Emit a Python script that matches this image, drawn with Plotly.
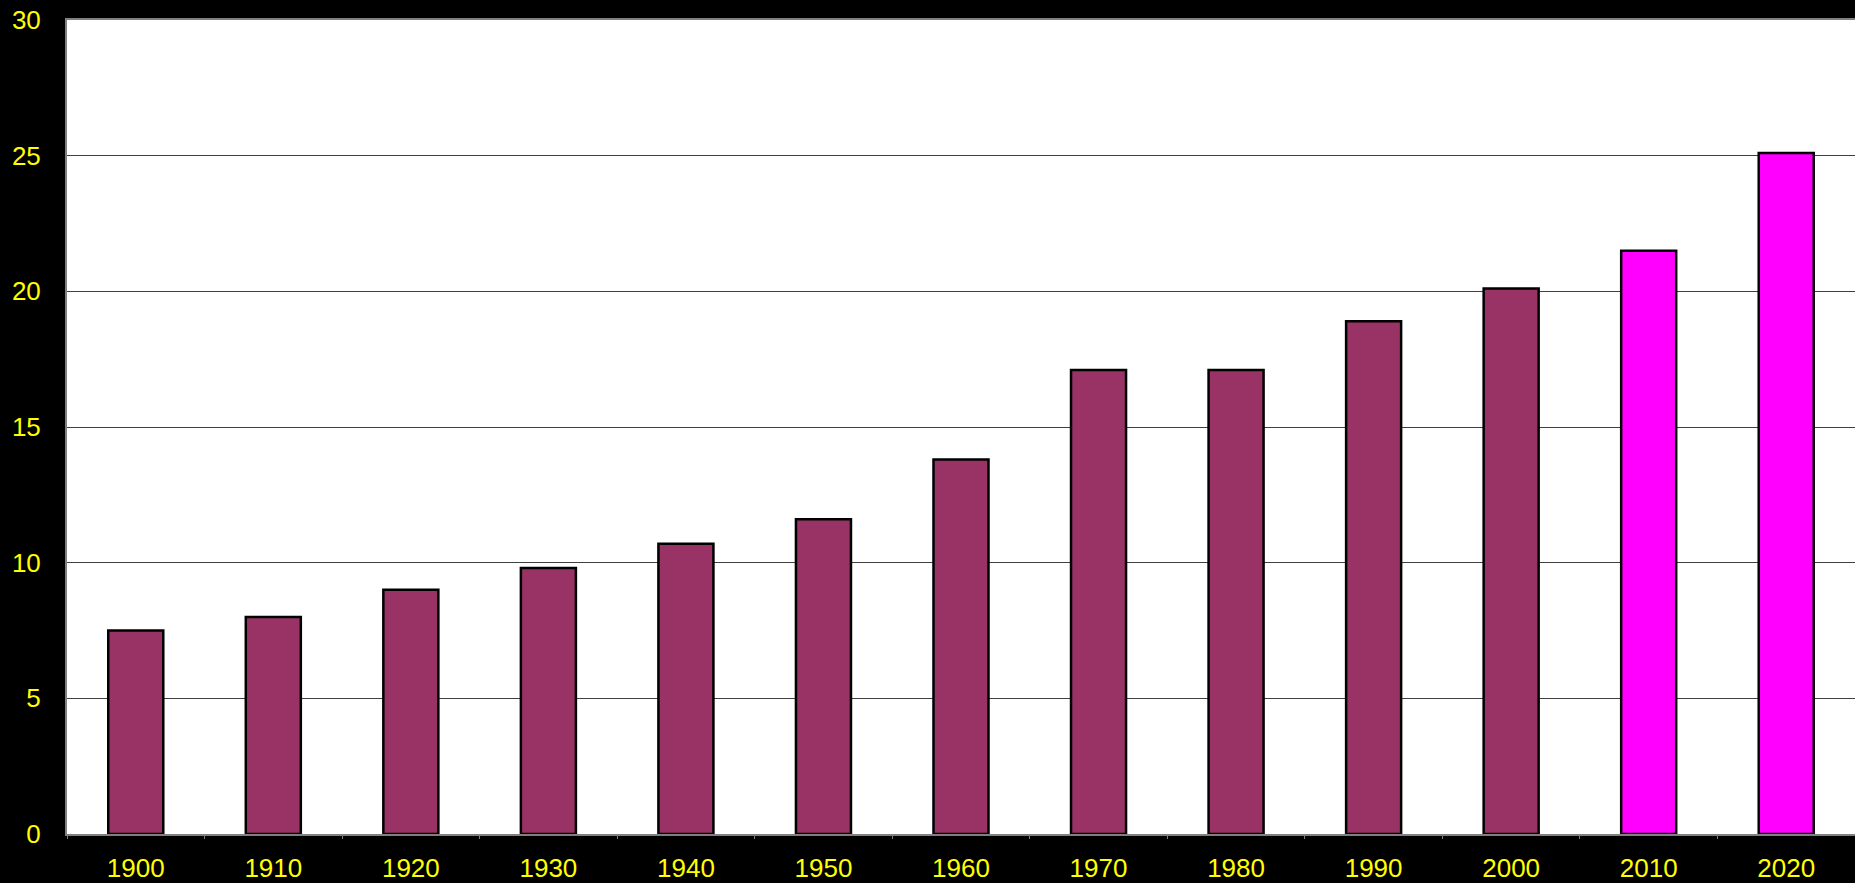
import plotly.graph_objects as go

years = ["1900", "1910", "1920", "1930", "1940", "1950", "1960",
         "1970", "1980", "1990", "2000", "2010", "2020"]
values = [7.5, 8.0, 9.0, 9.8, 10.7, 11.6, 13.8, 17.1, 17.1, 18.9, 20.1, 21.5, 25.1]
bar_colors = ["#993366"] * 11 + ["#FF00FF"] * 2
y_ticks = [0, 5, 10, 15, 20, 25, 30]

fig = go.Figure(go.Bar(
    x=years, y=values,
    marker=dict(color=bar_colors, line=dict(color="#000000", width=2.5)),
    hoverinfo="x+y",
))

font = dict(family="Liberation Sans, Arial, sans-serif", size=26, color="#FFFF00")

fig.update_layout(
    width=1855, height=883,
    margin=dict(l=67, r=0, t=20, b=44),
    paper_bgcolor="#000000",
    plot_bgcolor="#FFFFFF",
    bargap=0.6,
    showlegend=False,
    font=font,
    xaxis=dict(
        type="category",
        showline=True, linecolor="#808080", linewidth=2, mirror=True,
        ticks="outside", tickson="boundaries", ticklen=3, tickcolor="#808080",
        tickfont=font, showgrid=False, ticklabelstandoff=10,
    ),
    yaxis=dict(
        range=[0, 30], tickvals=y_ticks, ticktext=[str(v) for v in y_ticks],
        showline=True, linecolor="#808080", linewidth=2,
        showgrid=True, gridcolor="#404040", gridwidth=1,
        zeroline=False, ticks="", tickfont=font, ticklabelstandoff=19,
    ),
)

fig.write_html(
    "out.html",
    config={"displayModeBar": False},
    post_script="document.body.style.margin='0';document.body.style.background='#000';"
                "document.body.style.overflow='hidden';",
)
